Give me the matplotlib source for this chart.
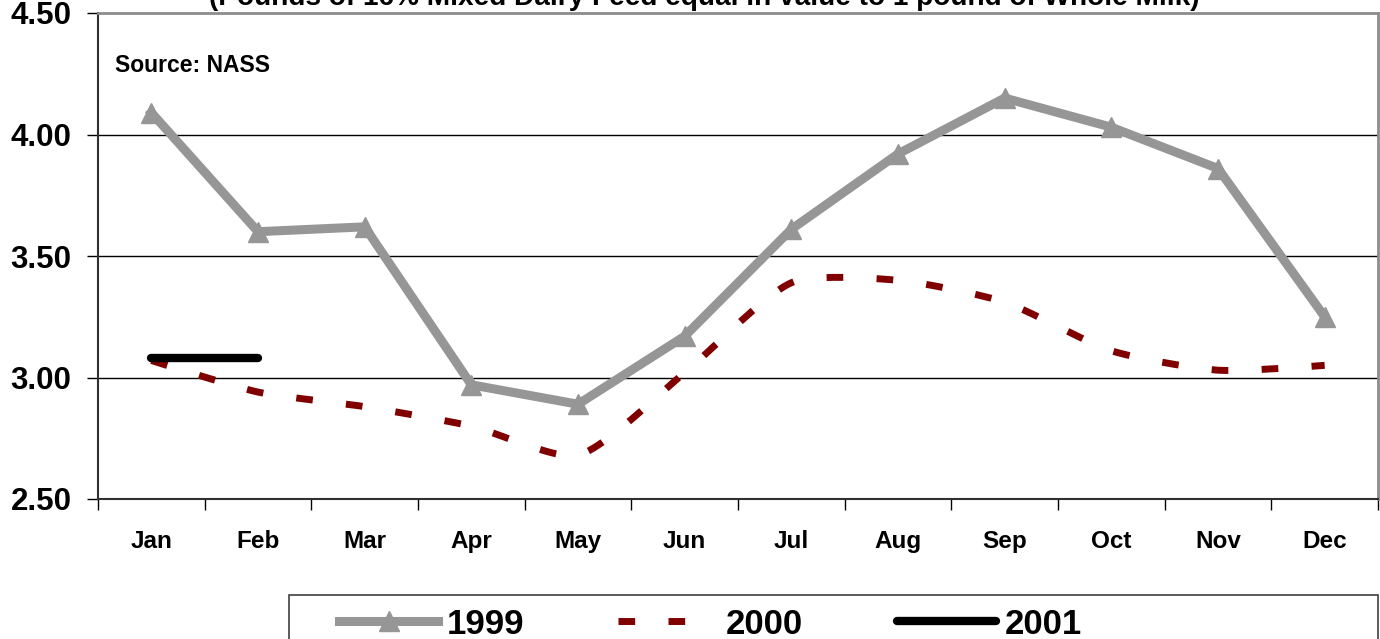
import matplotlib.pyplot as plt
import numpy as np
from matplotlib.patches import Rectangle
from matplotlib.lines import Line2D

months = ['Jan', 'Feb', 'Mar', 'Apr', 'May', 'Jun',
          'Jul', 'Aug', 'Sep', 'Oct', 'Nov', 'Dec']
y1999 = [4.09, 3.60, 3.62, 2.97, 2.89, 3.17, 3.61, 3.92, 4.15, 4.03, 3.86, 3.25]
y2000 = [3.07, 2.94, 2.88, 2.80, 2.68, 3.02, 3.39, 3.40, 3.31, 3.11, 3.03, 3.05]
y2001 = [3.08, 3.08]
yticks = [2.50, 3.00, 3.50, 4.00, 4.50]
title = '(Pounds of 16% Mixed Dairy Feed equal in value to 1 pound of Whole Milk)'

plt.rcParams['font.family'] = ['Liberation Sans', 'DejaVu Sans']


def smooth(x, y, sx=1.0, sy=1.0, k=4.5, n=24):
    # bezier smoothing like excel: tangents scaled by segment lengths on screen
    x = np.asarray(x, float)
    y = np.asarray(y, float)
    pts = np.column_stack([x * sx, y * sy])
    m = len(pts)
    tang = np.zeros_like(pts)
    for i in range(m):
        a = pts[max(i - 1, 0)]
        b = pts[min(i + 1, m - 1)]
        tang[i] = b - a
    d = np.hypot(*np.diff(pts, axis=0).T)
    out = []
    for i in range(m - 1):
        p1, p2 = pts[i], pts[i + 1]
        dl = d[i - 1] if i > 0 else d[i]
        dr = d[i + 1] if i + 1 < m - 1 else d[i]
        c1 = p1 + tang[i] * d[i] / (dl + d[i]) / k * (1 if i > 0 else 0)
        c2 = p2 - tang[i + 1] * d[i] / (d[i] + dr) / k * (1 if i + 1 < m - 1 else 0)
        t = np.linspace(0, 1, n, endpoint=False)[:, None]
        seg = ((1 - t) ** 3 * p1 + 3 * (1 - t) ** 2 * t * c1
               + 3 * (1 - t) * t ** 2 * c2 + t ** 3 * p2)
        out.append(seg)
    out.append(pts[-1:])
    out = np.vstack(out)
    return out[:, 0] / sx, out[:, 1] / sy


fig = plt.figure(figsize=(13.8, 6.39), dpi=100)
ax = fig.add_axes([98 / 1380, 1 - 499 / 639, 1280 / 1380, 486 / 639])

x = np.arange(len(months))
cx, cy = smooth(x, y2000, sx=106.7, sy=243)
ax.plot(cx, cy, color='#800000', lw=5, dashes=(2.4, 4.8),
        solid_capstyle='butt', dash_capstyle='butt', zorder=3)
ax.plot(x, y1999, color='#969696', lw=6.5, marker='^', ms=15,
        mec='#969696', mfc='#969696', zorder=4)
ax.plot(x[:len(y2001)], y2001, color='black', lw=6,
        solid_capstyle='round', zorder=5)

ax.set_xlim(-0.5, 11.5)
ax.set_ylim(2.5, 4.5)
ax.set_yticks(yticks)
ax.set_yticklabels(['%.2f' % v for v in yticks], fontsize=22.5, fontweight='bold')
ax.set_xticks(np.arange(-0.5, 12, 1))
ax.set_xticklabels([])
ax.set_xticks(x, minor=True)
ax.set_xticklabels(months, minor=True, fontsize=17.5, fontweight='bold')
ax.tick_params(axis='x', which='major', length=8, width=1, direction='out')
ax.tick_params(axis='x', which='minor', length=0, pad=22)
ax.tick_params(axis='y', length=8, width=1, direction='out', pad=11)
for v in yticks[1:-1]:
    ax.axhline(v, color='black', lw=1, zorder=1)
for s in ['left', 'bottom']:
    ax.spines[s].set_linewidth(1.5)
    ax.spines[s].set_color('#303030')
for s in ['top', 'right']:
    ax.spines[s].set_linewidth(2)
    ax.spines[s].set_color('#8c8c8c')

ax.text((115 - 98) / 1280, 1 - (66 - 13) / 486, 'Source: NASS',
        transform=ax.transAxes, fontsize=16.5, fontweight='bold',
        va='center', ha='left')
fig.text(704 / 1380, 1 + 2 / 639, title, fontsize=20.2,
         fontweight='bold', ha='center', va='center')

# legend box running off the bottom
fig.patches.append(Rectangle((289 / 1380, -0.05), 1089 / 1380, 0.05 + 44 / 639,
                             transform=fig.transFigure, fill=False,
                             ec='#404040', lw=1.2))
handles = [
    Line2D([], [], color='#969696', lw=6.5, marker='^', ms=15),
    Line2D([], [], color='#800000', lw=5, dashes=(2.4, 4.8)),
    Line2D([], [], color='black', lw=6, solid_capstyle='round'),
]
fig.legend(handles, ['1999', '2000', '2001'], loc='center left',
           bbox_to_anchor=(308 / 1380, 1 - 624 / 639), ncol=3, frameon=False,
           prop={'size': 25, 'weight': 'bold'},
           handlelength=2.85, handletextpad=0.25, columnspacing=2.7)

fig.savefig('out.png', dpi=100)
